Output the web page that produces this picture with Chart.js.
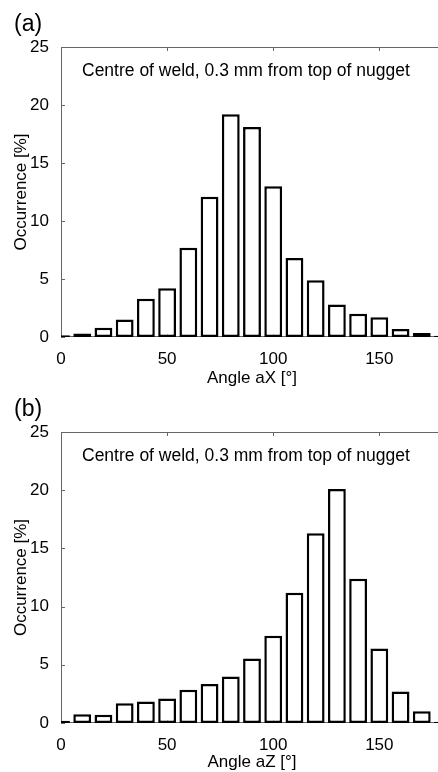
<!DOCTYPE html>
<html>
<head>
<meta charset="utf-8">
<script src="https://cdn.jsdelivr.net/npm/chart.js@4/dist/chart.umd.min.js"></script>
<style>
html, body { margin: 0; padding: 0; background: #fff; overflow: hidden; width: 438px; height: 772px; }
#wrap { position: relative; width: 438px; height: 772px; overflow: hidden; }
canvas { position: absolute; left: 0; }
</style>
</head>
<body>
<div id="wrap">
  <canvas id="ca" width="443" height="391" style="top:0px"></canvas>
  <canvas id="cb" width="443" height="389" style="top:386px"></canvas>
</div>
<script>
// ---- data ----
const angleBins = [0, 10, 20, 30, 40, 50, 60, 70, 80, 90, 100, 110, 120, 130, 140, 150, 160, 170, 180];
const occurrenceAX = [0.15, 0.3, 0.8, 1.5, 3.3, 4.2, 7.7, 12.1, 19.2, 18.1, 13.0, 6.8, 4.9, 2.8, 2.0, 1.7, 0.7, 0.35, 0.1];
const occurrenceAZ = [0.2, 0.75, 0.7, 1.7, 1.85, 2.1, 2.85, 3.35, 4.0, 5.55, 7.5, 11.2, 16.3, 20.1, 12.4, 6.4, 2.7, 1.0, 0.1];
const xTickValues = [0, 50, 100, 150];
const yTickValues = [0, 5, 10, 15, 20, 25];
const panelLabels = ['(a)', '(b)'];
const noteText = 'Centre of weld, 0.3 mm from top of nugget';
const xTitles = ['Angle aX [°]', 'Angle aZ [°]'];
const yTitle = 'Occurrence [%]';

const FONT = '"Liberation Sans", Arial, Helvetica, sans-serif';
Chart.defaults.font.family = FONT;
Chart.defaults.font.size = 17;
Chart.defaults.color = '#000';

const framePlugin = {
  id: 'frame',
  beforeDatasetsDraw(chart) {
    const { ctx, chartArea: a, scales: { x, y } } = chart;
    ctx.save();
    ctx.strokeStyle = '#666';
    ctx.lineWidth = 1;
    ctx.strokeRect(Math.round(a.left) + 0.5, Math.round(a.top) + 0.5,
                   Math.round(a.right - a.left) - 1, Math.round(a.bottom - a.top) - 1);
    ctx.beginPath();
    x.ticks.forEach(t => {
      const px = Math.round(x.getPixelForValue(t.value)) + 0.5;
      ctx.moveTo(px, a.bottom); ctx.lineTo(px, a.bottom - 4);
      ctx.moveTo(px, a.top); ctx.lineTo(px, a.top + 4);
    });
    y.ticks.forEach(t => {
      const py = Math.round(y.getPixelForValue(t.value)) + 0.5;
      ctx.moveTo(a.left, py); ctx.lineTo(a.left + 4, py);
      ctx.moveTo(a.right, py); ctx.lineTo(a.right - 4, py);
    });
    ctx.stroke();
    ctx.restore();
  },
  afterDraw(chart, args, opts) {
    const { ctx, chartArea: a } = chart;
    ctx.save();
    ctx.fillStyle = '#000';
    ctx.textAlign = 'left';
    ctx.textBaseline = 'alphabetic';
    ctx.font = '23px ' + FONT;
    ctx.fillText(opts.panel, a.left - 47, a.top - 16);
    ctx.font = '17.5px ' + FONT;
    ctx.fillText(opts.note, a.left + 21, a.top + 29.3);
    ctx.restore();
  }
};

function makeChart(id, values, xTitle, panel, topPad, xScaleH) {
  return new Chart(document.getElementById(id), {
    type: 'bar',
    data: {
      datasets: [{
        data: angleBins.map((ang, i) => ({ x: ang, y: values[i] })),
        backgroundColor: '#fff',
        borderColor: '#000',
        borderWidth: 2.5,
        borderSkipped: false,
        barPercentage: 0.84,
        categoryPercentage: 1.0,
        clip: 0
      }]
    },
    options: {
      responsive: false,
      devicePixelRatio: 1,
      animation: false,
      layout: { padding: { top: topPad, left: 0, right: 0, bottom: 0 } },
      plugins: {
        legend: { display: false },
        tooltip: { enabled: false },
        frame: { panel: panel, note: noteText }
      },
      scales: {
        x: {
          type: 'linear',
          min: 0, max: 180,
          offset: false,
          grid: { display: false },
          border: { display: false },
          ticks: { padding: 4, color: '#000', autoSkip: false, maxRotation: 0, includeBounds: false },
          afterBuildTicks: s => { s.ticks = xTickValues.map(v => ({ value: v })); },
          title: { display: true, text: xTitle, color: '#000', font: { size: 17 }, padding: { top: 0, bottom: 2 } },
          afterFit: s => { s.height = xScaleH; }
        },
        y: {
          type: 'linear',
          min: 0, max: 25,
          grid: { display: false },
          border: { display: false },
          ticks: { padding: 4, color: '#000' },
          afterBuildTicks: s => { s.ticks = yTickValues.map(v => ({ value: v })); },
          title: { display: true, text: yTitle, color: '#000', font: { size: 17 }, padding: { top: 11, bottom: 0 } },
          afterFit: s => { s.width = 61; }
        }
      }
    },
    plugins: [framePlugin]
  });
}

makeChart('ca', occurrenceAX, xTitles[0], panelLabels[0], 47, 54);
makeChart('cb', occurrenceAZ, xTitles[1], panelLabels[1], 46, 52);
</script>
</body>
</html>
